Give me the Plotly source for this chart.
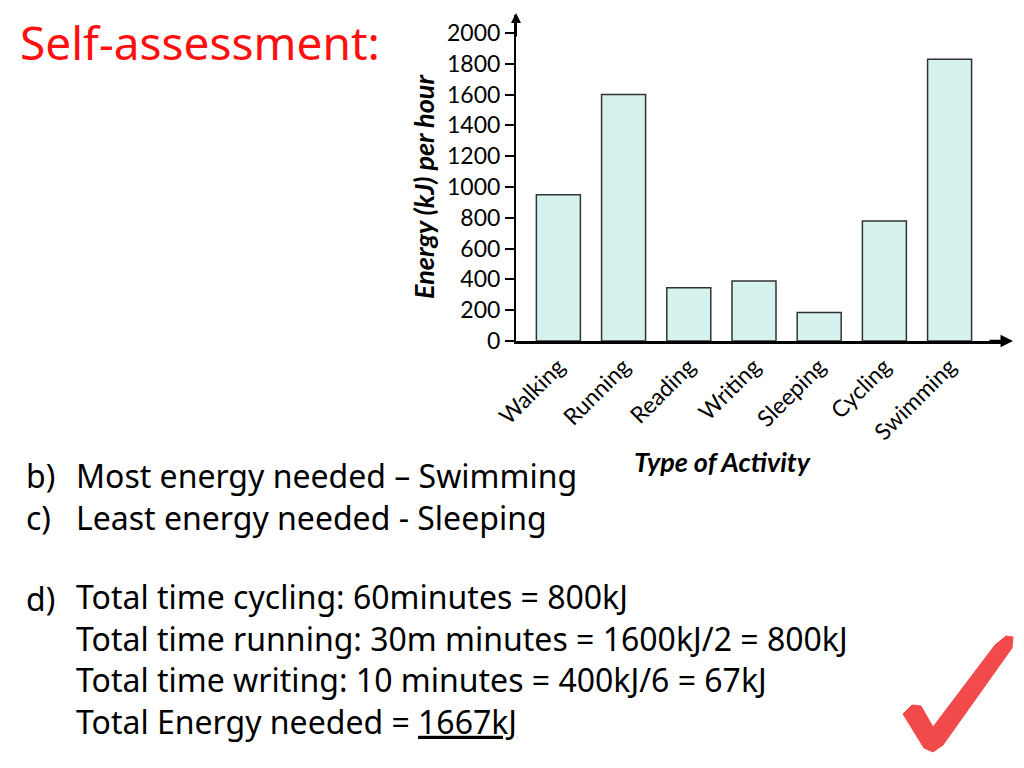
import plotly.graph_objects as go

# 数据
activities = ['Walking', 'Running', 'Reading', 'Writing', 'Sleeping', 'Cycling', 'Swimming']
energy = [950, 1600, 345, 390, 185, 780, 1830]
y_ticks = [0, 200, 400, 600, 800, 1000, 1200, 1400, 1600, 1800, 2000]

title_text = 'Self-assessment:'
bc_labels = ['b)', 'c)']
bc_lines = [
    'Most energy needed \u2013 Swimming',
    'Least energy needed - Sleeping',
]
d_label = 'd)'
d_lines = [
    'Total time cycling: 60minutes = 800kJ',
    'Total time running: 30m minutes = 1600kJ/2 = 800kJ',
    'Total time writing: 10 minutes = 400kJ/6 = 67kJ',
    'Total Energy needed = <span style="text-decoration:underline">1667kJ</span>',
]

# 页面 body 有 8px 的边距
OFF = 8
W, H = 1024 - 2 * OFF, 768 - 2 * OFF
# 绘图区在屏幕上的位置
SL, SR, ST, SB = 516, 1005, 15, 341
L, R, T, B = SL - OFF, W - (SR - OFF), ST - OFF, H - (SB - OFF)


def px(x):
    return (x - SL) / (SR - SL)


def py(y):
    return (SB - y) / (SB - ST)


fig = go.Figure(go.Bar(
    x=activities, y=energy, width=0.675,
    marker=dict(color='#d5f2ee', line=dict(color='#333333', width=1.5)),
))

font_txt = 'Noto Sans'
body = dict(family=font_txt, size=32, color='black')
ann = []
ann.append(dict(x=px(18), y=py(42), text=title_text, xanchor='left', yanchor='middle',
                font=dict(family=font_txt, size=46, color='#ff1010'), showarrow=False))
# b) c)
ann.append(dict(x=px(24), y=py(496.5), text='<br>'.join(bc_labels), xanchor='left', yanchor='middle',
                align='left', font=body, showarrow=False))
ann.append(dict(x=px(74), y=py(496.5), text='<br>'.join(bc_lines), xanchor='left', yanchor='middle',
                align='left', font=body, showarrow=False))
# d)
ann.append(dict(x=px(24), y=py(598), text=d_label, xanchor='left', yanchor='middle',
                font=body, showarrow=False))
ann.append(dict(x=px(74), y=py(659), text='<br>'.join(d_lines), xanchor='left', yanchor='middle',
                align='left', font=body, showarrow=False))

# 坐标轴标题
ann.append(dict(x=px(423), y=py(187), text='<b><i>Energy (kJ) per hour</i></b>', textangle=-90,
                xanchor='center', yanchor='middle', showarrow=False,
                font=dict(family='Lato', size=27, color='black')))
ann.append(dict(x=px(722), y=py(461), text='<b><i>Type of Activity</i></b>',
                xanchor='center', yanchor='middle', showarrow=False,
                font=dict(family='Lato', size=27, color='black')))

# 箭头
ann.append(dict(x=px(516), y=py(13), ax=0, ay=25, text='', showarrow=True,
                arrowhead=2, arrowsize=1, arrowwidth=2, arrowcolor='black'))
ann.append(dict(x=px(1013), y=py(341), ax=-25, ay=0, text='', showarrow=True,
                arrowhead=2, arrowsize=1, arrowwidth=2.5, arrowcolor='black'))
for a in ann:
    a.setdefault('xref', 'paper')
    a.setdefault('yref', 'paper')

# 对勾
pts = [(903, 714), (912, 705), (921, 706), (933, 727), (995, 645), (1006, 636), (1013, 637),
       (1012, 648), (943, 745), (933, 752), (924, 748)]
path = 'M ' + ' L '.join(f'{px(x):.4f},{py(y):.4f}' for x, y in pts) + ' Z'

fig.update_layout(
    width=W, height=H,
    margin=dict(l=L, r=R, t=T, b=B),
    paper_bgcolor='white', plot_bgcolor='white',
    showlegend=False,
    annotations=ann,
    shapes=[dict(type='path', path=path, xref='paper', yref='paper',
                 fillcolor='#f24a4a', line=dict(color='#f24a4a', width=1))],
    xaxis=dict(range=[-0.65, 6.85], showline=True, linecolor='black', linewidth=3,
               tickangle=-45, ticks='', showgrid=False, zeroline=False,
               tickfont=dict(family='Lato', size=23, color='black')),
    yaxis=dict(range=[0, 2000 * (SB - ST) / 308], tickvals=y_ticks, showline=True,
               linecolor='black', linewidth=2,
               ticks='outside', ticklen=9, tickwidth=1.5, tickcolor='black',
               showgrid=False, zeroline=False,
               tickfont=dict(family='Lato', size=23, color='black')),
)

fig.write_html('out.html')
